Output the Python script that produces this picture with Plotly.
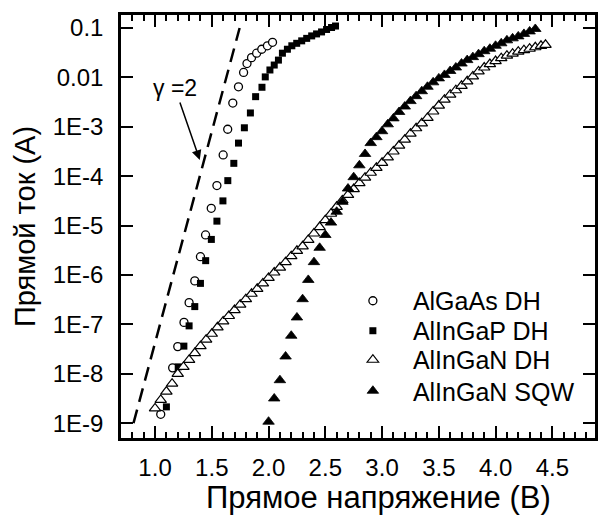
import plotly.graph_objects as go

# ---------------- data (voltage in V, current as log10(I/A)) ----------------
gamma_v = [0.81, 1.745]
gamma_log = [-9.0, -1.0]

algaas_v = [1.05, 1.155, 1.20, 1.255, 1.30, 1.35, 1.40, 1.445, 1.495, 1.545, 1.60,
            1.64, 1.685, 1.735, 1.78, 1.81, 1.85, 1.895, 1.94, 1.99, 2.035]
algaas_log = [-8.82, -7.88, -7.45, -6.96, -6.56, -6.12, -5.63, -5.19, -4.65, -4.19, -3.57,
              -3.05, -2.52, -2.19, -1.90, -1.72, -1.60, -1.51, -1.43, -1.36, -1.29]

alingap_v = [1.10, 1.204, 1.254, 1.30, 1.35, 1.40, 1.446, 1.496, 1.545, 1.598, 1.641,
             1.694, 1.735, 1.787, 1.84, 1.886, 1.942, 1.971, 2.012, 2.05, 2.087, 2.122,
             2.166, 2.205, 2.248, 2.292, 2.336, 2.38, 2.423, 2.467, 2.511, 2.555, 2.59]
alingap_log = [-8.67, -7.86, -7.44, -7.03, -6.64, -6.17, -5.71, -5.28, -4.91, -4.50, -4.09,
               -3.74, -3.33, -3.02, -2.72, -2.39, -2.20, -1.99, -1.85, -1.75, -1.65, -1.51,
               -1.43, -1.36, -1.31, -1.26, -1.21, -1.16, -1.12, -1.08, -1.03, -0.99, -0.96]

alingan_dh_v = [1.00, 1.05, 1.10, 1.15, 1.20, 1.25, 1.30, 1.35, 1.40, 1.45, 1.50, 1.55,
                1.60, 1.65, 1.70, 1.75, 1.80, 1.85, 1.90, 1.95, 2.00, 2.05, 2.10, 2.15,
                2.20, 2.25, 2.30, 2.35, 2.40, 2.45, 2.50, 2.55, 2.60, 2.65, 2.70, 2.75,
                2.80, 2.85, 2.90, 2.95, 3.00, 3.05, 3.10, 3.15, 3.20, 3.25, 3.30, 3.35,
                3.40, 3.45, 3.50, 3.55, 3.60, 3.65, 3.70, 3.75, 3.80, 3.85, 3.90, 3.95,
                4.00, 4.05, 4.10, 4.15, 4.20, 4.25, 4.30, 4.35, 4.40, 4.44]
alingan_dh_log = [-8.70, -8.53, -8.36, -8.20, -8.00, -7.86, -7.72, -7.58, -7.44, -7.31, -7.19, -7.06,
                  -6.94, -6.83, -6.71, -6.60, -6.49, -6.38, -6.28, -6.17, -6.06, -5.95, -5.85, -5.74,
                  -5.62, -5.51, -5.42, -5.29, -5.16, -5.03, -4.89, -4.76, -4.62, -4.49, -4.38, -4.26,
                  -4.14, -4.03, -3.93, -3.83, -3.73, -3.62, -3.50, -3.38, -3.26, -3.14, -3.03, -2.93,
                  -2.82, -2.69, -2.57, -2.45, -2.35, -2.26, -2.17, -2.08, -1.98, -1.88, -1.80, -1.73,
                  -1.67, -1.61, -1.56, -1.52, -1.48, -1.45, -1.42, -1.39, -1.36, -1.34]

alingan_sqw_v = [2.00, 2.05, 2.10, 2.15, 2.20, 2.25, 2.30, 2.35, 2.40, 2.45, 2.50, 2.55,
                 2.60, 2.65, 2.70, 2.75, 2.80, 2.85, 2.90, 2.95, 3.00, 3.05, 3.10, 3.15,
                 3.20, 3.25, 3.30, 3.35, 3.40, 3.45, 3.50, 3.55, 3.60, 3.65, 3.70, 3.75,
                 3.80, 3.85, 3.90, 3.95, 4.00, 4.05, 4.10, 4.15, 4.20, 4.25, 4.30, 4.35]
alingan_sqw_log = [-8.97, -8.50, -8.13, -7.65, -7.23, -6.86, -6.49, -6.10, -5.74, -5.45, -5.19, -4.94,
                   -4.72, -4.52, -4.25, -4.02, -3.78, -3.55, -3.33, -3.21, -3.09, -2.95, -2.83, -2.70,
                   -2.59, -2.48, -2.38, -2.28, -2.19, -2.10, -2.02, -1.95, -1.87, -1.80, -1.72, -1.65,
                   -1.59, -1.53, -1.47, -1.42, -1.36, -1.31, -1.25, -1.21, -1.17, -1.12, -1.07, -1.02]

y_tickvals = [1e-9, 1e-8, 1e-7, 1e-6, 1e-5, 1e-4, 1e-3, 1e-2, 1e-1]
y_ticktext = ["1E-9", "1E-8", "1E-7", "1E-6", "1E-5", "1E-4", "1E-3", "0.01", "0.1"]
x_tickvals = [1.0, 1.5, 2.0, 2.5, 3.0, 3.5, 4.0, 4.5]
x_ticktext = ["1.0", "1.5", "2.0", "2.5", "3.0", "3.5", "4.0", "4.5"]

x_title = "Прямое напряжение (В)"
y_title = "Прямой ток (А)"


def cur(logs):
    return [10 ** e for e in logs]


FONT = "Liberation Sans, Arial, sans-serif"

fig = go.Figure()
fig.add_trace(go.Scatter(x=gamma_v, y=cur(gamma_log), mode="lines", showlegend=False,
                         line=dict(color="black", width=2.5, dash="14px,8px")))
fig.add_trace(go.Scatter(x=algaas_v, y=cur(algaas_log), mode="markers", name="AlGaAs DH",
                         legend="legend",
                         marker=dict(symbol="circle", size=8, color="white",
                                     line=dict(color="black", width=1.3))))
fig.add_trace(go.Scatter(x=alingap_v, y=cur(alingap_log), mode="markers", name="AlInGaP DH",
                         legend="legend2",
                         marker=dict(symbol="square", size=7, color="black",
                                     line=dict(color="black", width=0))))
fig.add_trace(go.Scatter(x=alingan_dh_v, y=cur(alingan_dh_log), mode="markers", name="AlInGaN DH",
                         legend="legend3",
                         marker=dict(symbol="triangle-up", size=10, color="white",
                                     line=dict(color="black", width=1.2))))
fig.add_trace(go.Scatter(x=alingan_sqw_v, y=cur(alingan_sqw_log), mode="markers", name="AlInGaN SQW",
                         legend="legend4",
                         marker=dict(symbol="triangle-up", size=10, color="black",
                                     line=dict(color="black", width=0.8))))

fig.add_annotation(x=1.394, y=-3.672, ax=1.175, ay=-2.215, axref="x", ayref="y",
                   text="γ =2", showarrow=True, arrowhead=2, arrowsize=1.3, arrowwidth=1.5,
                   arrowcolor="black", font=dict(size=23, color="black", family=FONT))

# x-axis title (placed as annotation to match the reference's offset)
fig.add_annotation(x=0.544, y=-0.0946, xref="paper", yref="paper", showarrow=False,
                   xanchor="center", yanchor="top", text=x_title,
                   font=dict(size=31, color="black", family=FONT))

axis_common = dict(showline=True, linewidth=2.5, linecolor="black", mirror="ticks",
                   ticks="inside", ticklen=12, tickwidth=2, tickcolor="black",
                   showgrid=False, zeroline=False,
                   tickfont=dict(size=24, color="black", family=FONT))

fig.update_xaxes(range=[0.70, 4.876], tickvals=x_tickvals, ticktext=x_ticktext,
                 minor=dict(dtick=0.1, tick0=0, ticks="inside", ticklen=6, tickwidth=1.5,
                            tickcolor="black"),
                 ticklabelstandoff=6,
                 **axis_common)
fig.update_yaxes(type="log", range=[-9.30, -0.737], tickvals=y_tickvals, ticktext=y_ticktext,
                 ticklabelstandoff=10,
                 title=dict(text=y_title, standoff=9,
                            font=dict(size=29, color="black", family=FONT)),
                 **axis_common)

legend_style = dict(x=0.447, xanchor="left", yanchor="middle",
                    bgcolor="rgba(0,0,0,0)", font=dict(size=25, color="black", family=FONT),
                    itemwidth=70, tracegroupgap=0)

fig.update_layout(
    width=603, height=515,
    margin=dict(l=121, r=5, t=15, b=77),
    paper_bgcolor="white", plot_bgcolor="white",
    font=dict(family=FONT, color="black"),
    legend=dict(y=0.3239, **legend_style),
    legend2=dict(y=0.2530, **legend_style),
    legend3=dict(y=0.1844, **legend_style),
    legend4=dict(y=0.1111, **legend_style),
)

fig.write_html("out.html")
